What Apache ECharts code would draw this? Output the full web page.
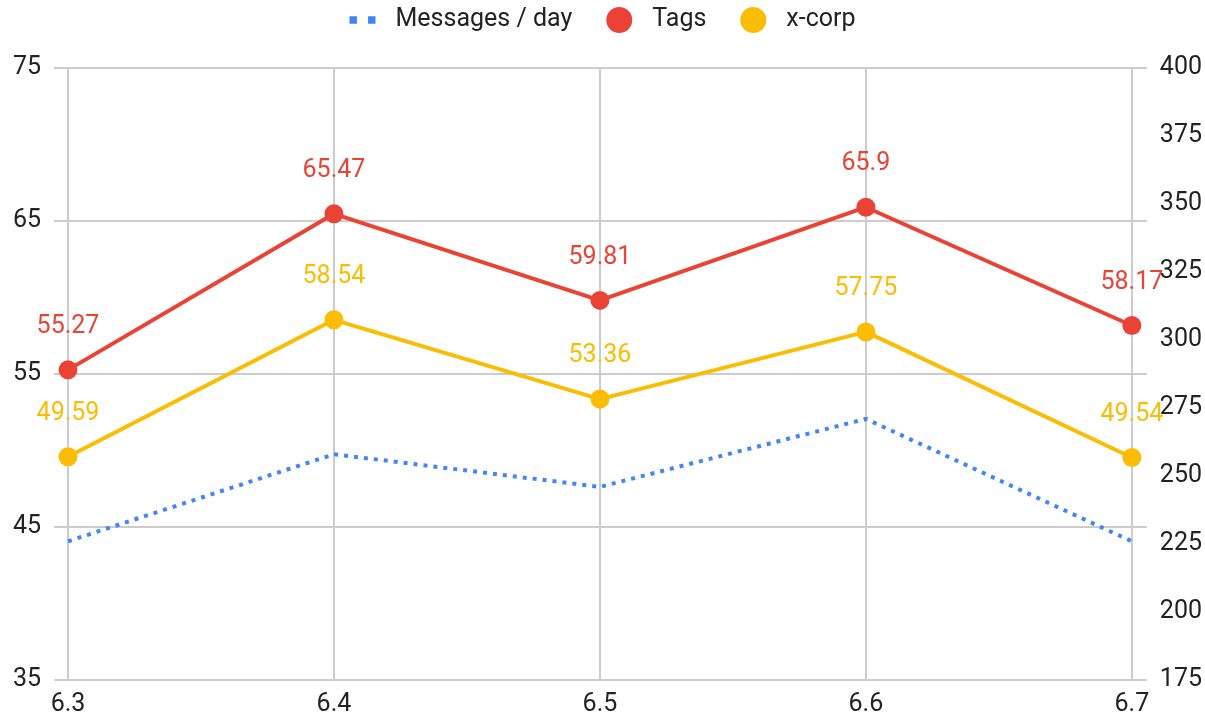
<!DOCTYPE html>
<html><head><meta charset="utf-8">
<script src="https://cdn.jsdelivr.net/npm/echarts@6/dist/echarts.min.js"></script>
<style>html,body{margin:0;padding:0;background:#fff}#c{width:1205px;height:719px}</style>
</head><body><div id="c"></div>
<script>
const categories = ['6.3','6.4','6.5','6.6','6.7'];
const messagesPerDay = [226, 258, 246, 271, 226];
const tags = [55.27, 65.47, 59.81, 65.9, 58.17];
const xcorp = [49.59, 58.54, 53.36, 57.75, 49.54];
const leftTicks = {min: 35, max: 75, interval: 10};
const rightTicks = {min: 175, max: 400, interval: 25};

const FONT = 'Roboto';
const chart = echarts.init(document.getElementById('c'));
const labelStyle = (color) => ({
  show: true, position: 'top', distance: 21, color: color,
  fontFamily: FONT, fontSize: 25
});
chart.setOption({
  animation: false,
  textStyle: {fontFamily: FONT},
  legend: {
    top: 2, left: 'center', itemWidth: 26, itemHeight: 26, itemGap: 34,
    textStyle: {fontFamily: FONT, fontSize: 25, color: '#222', padding: [0,0,0,15]},
    data: [
      {name: 'Messages / day', icon: 'path://M0,0h8v8h-8zM20,0h8v8h-8z', itemStyle: {color: '#4285f4'}},
      {name: 'Tags', icon: 'circle'},
      {name: 'x-corp', icon: 'circle'}
    ]
  },
  grid: {left: 68, right: 73, top: 68, bottom: 39, containLabel: false},
  xAxis: {
    type: 'category', data: categories, boundaryGap: false,
    axisLine: {show: false}, axisTick: {show: false},
    axisLabel: {color: '#222', fontSize: 25, fontFamily: FONT, margin: 12},
    splitLine: {show: true, lineStyle: {color: '#cccccc', width: 2}}
  },
  yAxis: [
    {
      type: 'value', position: 'left', min: leftTicks.min, max: leftTicks.max, interval: leftTicks.interval,
      axisLine: {show: false},
      axisTick: {show: true, length: 14, lineStyle: {color: '#cccccc', width: 2}},
      axisLabel: {color: '#222', fontSize: 25, fontFamily: FONT, margin: 27},
      splitLine: {show: true, lineStyle: {color: '#cccccc', width: 2}}
    },
    {
      type: 'value', position: 'right', min: rightTicks.min, max: rightTicks.max, interval: rightTicks.interval,
      axisLine: {show: false}, axisTick: {show: false},
      axisLabel: {color: '#222', fontSize: 25, fontFamily: FONT, margin: 28},
      splitLine: {show: false}
    },
    {
      type: 'value', position: 'right', min: leftTicks.min, max: leftTicks.max, interval: leftTicks.interval,
      axisLine: {show: false},
      axisTick: {show: true, length: 15, lineStyle: {color: '#cccccc', width: 2}},
      axisLabel: {show: false}, splitLine: {show: false}
    }
  ],
  series: [
    {
      name: 'Messages / day', type: 'line', yAxisIndex: 1, data: messagesPerDay,
      showSymbol: false, symbol: 'none', color: '#4285f4',
      lineStyle: {color: '#4285f4', width: 4, type: [4, 6], cap: 'butt'}, z: 2
    },
    {
      name: 'Tags', type: 'line', yAxisIndex: 0, data: tags,
      symbol: 'circle', symbolSize: 19, color: '#ea4335',
      lineStyle: {color: '#ea4335', width: 4},
      itemStyle: {color: '#ea4335'},
      label: labelStyle('#ea4335'), z: 3
    },
    {
      name: 'x-corp', type: 'line', yAxisIndex: 0, data: xcorp,
      symbol: 'circle', symbolSize: 19, color: '#fbbc04',
      lineStyle: {color: '#fbbc04', width: 4},
      itemStyle: {color: '#fbbc04'},
      label: labelStyle('#fbbc04'), z: 3
    }
  ]
});
</script></body></html>
